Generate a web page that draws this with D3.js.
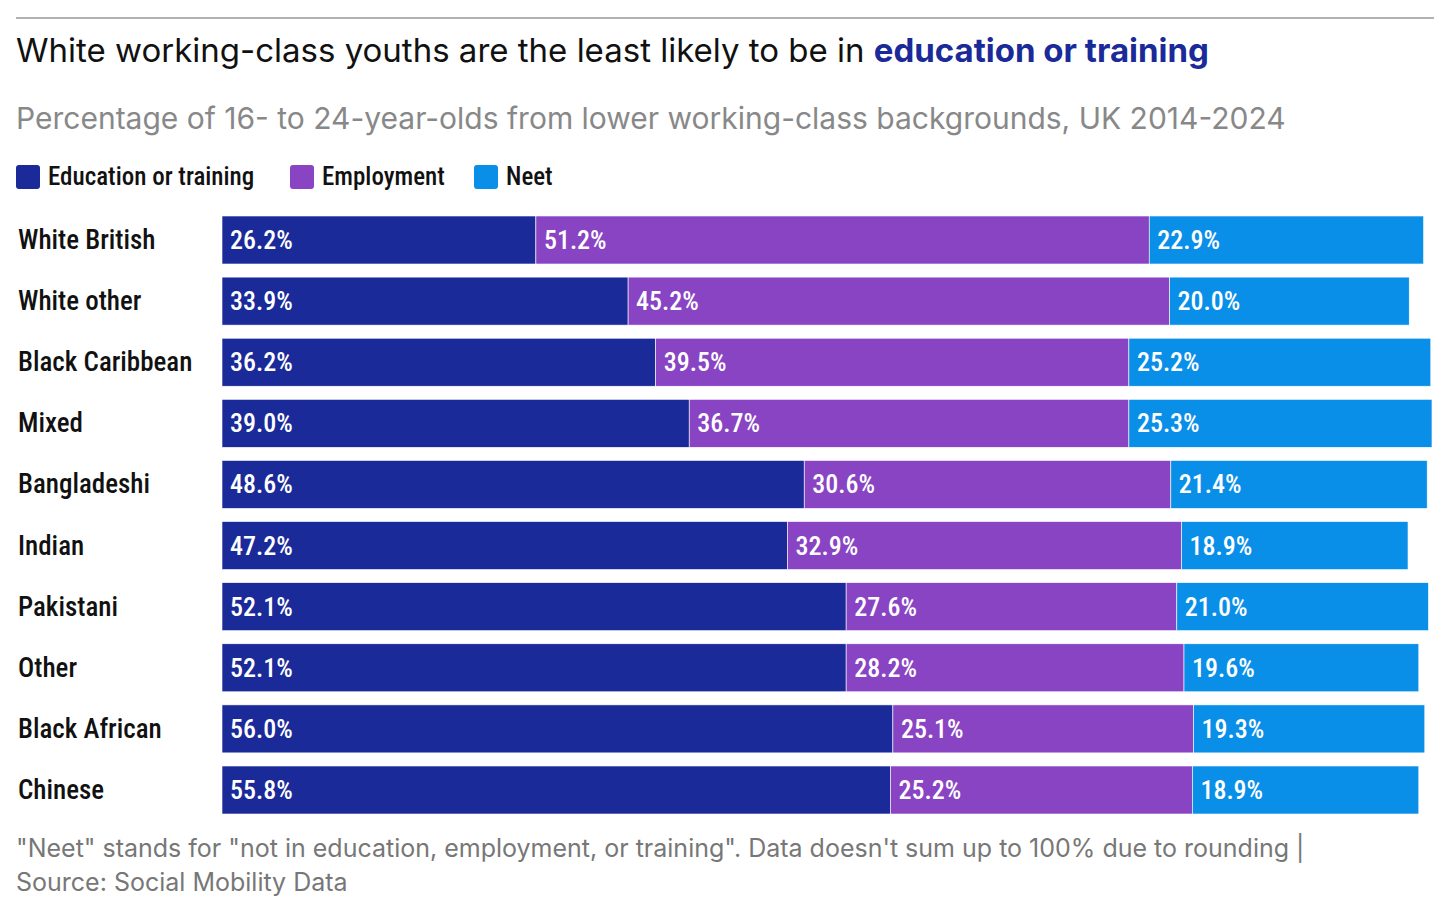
<!DOCTYPE html>
<html lang="en">
<head>
<meta charset="utf-8">
<title>chart</title>
<script src="https://cdn.jsdelivr.net/npm/d3@7"></script>
<style>
  body { margin: 0; background: #fff; }
  .cond { font-family: 'Liberation Sans Narrow', 'Roboto', sans-serif; font-stretch: condensed; font-weight: 500; }
  .sans { font-family: 'Inter', 'Roboto', sans-serif; }
</style>
</head>
<body>
<svg id="chart" width="1456" height="911"></svg>
<script>
// values
var data = [
  {name: "White British",  edu: 26.2, emp: 51.2, neet: 22.9},
  {name: "White other",    edu: 33.9, emp: 45.2, neet: 20.0},
  {name: "Black Caribbean",edu: 36.2, emp: 39.5, neet: 25.2},
  {name: "Mixed",          edu: 39.0, emp: 36.7, neet: 25.3},
  {name: "Bangladeshi",    edu: 48.6, emp: 30.6, neet: 21.4},
  {name: "Indian",         edu: 47.2, emp: 32.9, neet: 18.9},
  {name: "Pakistani",      edu: 52.1, emp: 27.6, neet: 21.0},
  {name: "Other",          edu: 52.1, emp: 28.2, neet: 19.6},
  {name: "Black African",  edu: 56.0, emp: 25.1, neet: 19.3},
  {name: "Chinese",        edu: 55.8, emp: 25.2, neet: 18.9}
];
var keys = ["edu", "emp", "neet"];
var colors = {edu: "#1b2a99", emp: "#8944c4", neet: "#0a8fe9"};
var labels = {edu: "Education or training", emp: "Employment", neet: "Neet"};

var svg = d3.select("#chart");
svg.append("line").attr("x1", 16).attr("x2", 1434).attr("y1", 18).attr("y2", 18)
  .attr("stroke", "#999").attr("stroke-width", 1.5);

var title = svg.append("text").attr("class", "sans").attr("x", 16).attr("y", 62)
  .attr("font-size", 33).attr("fill", "#111");
title.append("tspan").text("White working-class youths are the least likely to be in ");
title.append("tspan").attr("fill", "#1b2a99").attr("font-weight", 700).text("education or training");

svg.append("text").attr("class", "sans").attr("x", 16).attr("y", 129)
  .attr("font-size", 30).attr("fill", "#888")
  .text("Percentage of 16- to 24-year-olds from lower working-class backgrounds, UK 2014-2024");

// legend
var lx = [16, 290, 474];
keys.forEach(function(k, i) {
  svg.append("rect").attr("x", lx[i]).attr("y", 165).attr("width", 24).attr("height", 24)
    .attr("rx", 3).attr("fill", colors[k]);
  svg.append("text").attr("class", "cond").attr("x", lx[i] + 32).attr("y", 185)
    .attr("font-size", 25).attr("fill", "#111").text(labels[k]);
});

var x = d3.scaleLinear().domain([0, 100]).range([222, 1420]);
var y = d3.scaleBand().domain(data.map(function(d) { return d.name; }))
  .range([216, 814]).paddingInner(0.2145).paddingOuter(0);

var stack = d3.stack().keys(keys)(data);
var g = svg.append("g");
stack.forEach(function(layer) {
  var k = layer.key;
  layer.forEach(function(s) {
    g.append("rect").attr("x", x(s[0])).attr("y", y(s.data.name))
      .attr("width", x(s[1]) - x(s[0])).attr("height", y.bandwidth())
      .attr("fill", colors[k]).attr("stroke", "#fff").attr("stroke-width", 0.6);
    g.append("text").attr("class", "cond").attr("x", x(s[0]) + 8)
      .attr("y", y(s.data.name) + y.bandwidth() / 2 + 9)
      .attr("font-size", 26).attr("fill", "#fff").text(s.data[k].toFixed(1) + "%");
  });
});

data.forEach(function(d) {
  svg.append("text").attr("class", "cond").attr("x", 18)
    .attr("y", y(d.name) + y.bandwidth() / 2 + 9)
    .attr("font-size", 27).attr("fill", "#111").text(d.name);
});

svg.append("text").attr("class", "sans").attr("x", 16).attr("y", 857)
  .attr("font-size", 25).attr("fill", "#777")
  .text("\"Neet\" stands for \"not in education, employment, or training\". Data doesn't sum up to 100% due to rounding |");
svg.append("text").attr("class", "sans").attr("x", 16).attr("y", 891)
  .attr("font-size", 25).attr("fill", "#777").text("Source: Social Mobility Data");
</script>
</body>
</html>
